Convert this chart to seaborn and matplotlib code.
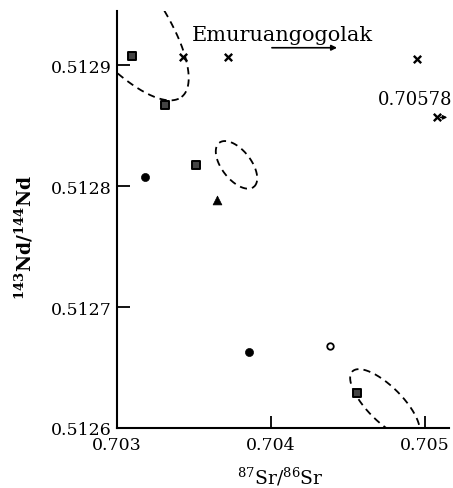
import numpy as np
import pandas as pd
import matplotlib
matplotlib.use("Agg")
import matplotlib.pyplot as plt
import seaborn as sns

# ---- data ----
square_x = [0.70310, 0.70331, 0.70351, 0.70456]
square_y = [0.512908, 0.512867, 0.512818, 0.512629]
dot_x = [0.70318, 0.70386]
dot_y = [0.512808, 0.512663]
open_x = [0.70438]
open_y = [0.512668]
tri_x = [0.70365]
tri_y = [0.512789]
cross_x = [0.70343, 0.70372, 0.70495, 0.70508]
cross_y = [0.512907, 0.512907, 0.512905, 0.512857]
offscale_label = "0.70578"
field_label = "Emuruangogolak"

# dashed fields: centre (x, y), semi-axes (display px), angle (deg)
field_cx = [0.702940, 0.703776, 0.704740]
field_cy = [0.5129522, 0.5128177, 0.5126199]
field_a = [120, 28, 46]
field_b = [42, 14.6, 17.5]
field_ang = [-52, -52, -45]

x_ticks = [0.703, 0.704, 0.705]
y_ticks = [0.5126, 0.5127, 0.5128, 0.5129]

sns.set_style("ticks")
plt.rcParams["font.family"] = ["DejaVu Serif"]
plt.rcParams["mathtext.fontset"] = "dejavuserif"
for key in ("text.color", "axes.labelcolor", "xtick.color", "ytick.color", "axes.edgecolor"):
    plt.rcParams[key] = "black"

fig = plt.figure(figsize=(4.53, 4.89), dpi=100)
ax = fig.add_axes([117 / 453, 60 / 489, 332 / 453, 417 / 489])

xlim = (0.703, 0.705156)
ylim = (0.5126, 0.512945)
ax.set_xlim(*xlim)
ax.set_ylim(*ylim)

px_per_x = 154000.0
px_per_y = 1208000.0

rows = []
for k, (xs, ys) in {"square": (square_x, square_y), "dot": (dot_x, dot_y),
                    "open": (open_x, open_y), "tri": (tri_x, tri_y),
                    "cross": (cross_x, cross_y)}.items():
    for x, y in zip(xs, ys):
        rows.append({"x": x, "y": y, "kind": k})
df = pd.DataFrame(rows)

sns.scatterplot(data=df[df.kind == "square"], x="x", y="y", marker="s", s=36,
                color="#444444", edgecolor="black", linewidth=1.4, ax=ax, zorder=3)
sns.scatterplot(data=df[df.kind == "dot"], x="x", y="y", marker="o", s=34,
                color="black", edgecolor="black", ax=ax, zorder=3)
sns.scatterplot(data=df[df.kind == "open"], x="x", y="y", marker="o", s=22,
                facecolor="white", edgecolor="black", linewidth=1.3, ax=ax, zorder=3)
sns.scatterplot(data=df[df.kind == "tri"], x="x", y="y", marker="^", s=40,
                color="black", edgecolor="black", ax=ax, zorder=3)
sns.scatterplot(data=df[df.kind == "cross"], x="x", y="y", marker="x", s=28,
                color="black", linewidth=1.7, ax=ax, zorder=3)

# dashed fields
t = np.linspace(0, 2 * np.pi, 400)
for cx, cy, a, b, ang in zip(field_cx, field_cy, field_a, field_b, field_ang):
    th = np.deg2rad(ang)
    u = a * np.cos(t)
    v = b * np.sin(t)
    du = u * np.cos(th) - v * np.sin(th)
    dv = u * np.sin(th) + v * np.cos(th)
    ax.plot(cx + du / px_per_x, cy + dv / px_per_y, color="black", lw=1.3,
            linestyle=(0, (4, 2.8)), zorder=2)

# annotations
ax.text(0.703487, 0.5129253, field_label, fontsize=15, ha="left", va="center")
ax.annotate("", xy=(0.704429, 0.5129146), xytext=(0.704006, 0.5129146),
            arrowprops=dict(arrowstyle="-|>", lw=1.2, color="black",
                            mutation_scale=8, shrinkA=0, shrinkB=0))
ax.text(0.705175, 0.5128724, offscale_label, fontsize=13, ha="right",
        va="center", clip_on=False)
ax.annotate("", xy=(0.705145, cross_y[3]), xytext=(0.705100, cross_y[3]),
            arrowprops=dict(arrowstyle="-|>", lw=1.0, color="black",
                            mutation_scale=6, shrinkA=0, shrinkB=0),
            annotation_clip=False)

ax.set_xticks(x_ticks)
ax.set_xticklabels([f"{v:.3f}" for v in x_ticks])
ax.set_yticks(y_ticks)
ax.set_yticklabels([f"{v:.4f}" for v in y_ticks])
ax.tick_params(direction="in", length=9, width=1.3, labelsize=12.5, colors="black")
ax.tick_params(axis="x", pad=6)
ax.tick_params(axis="y", pad=4)

sns.despine(ax=ax)
for sp in ("left", "bottom"):
    ax.spines[sp].set_linewidth(1.5)
    ax.spines[sp].set_color("black")

ax.set_xlabel(r"$^{87}$Sr/$^{86}$Sr", fontsize=13.5)
ax.set_ylabel(r"$^{\mathbf{143}}$Nd/$^{\mathbf{144}}$Nd", fontsize=13.5, fontweight="bold")
ax.xaxis.set_label_coords(0.491, -0.088)
ax.yaxis.set_label_coords(-0.245, 0.46)

fig.savefig("out.png", dpi=100)
